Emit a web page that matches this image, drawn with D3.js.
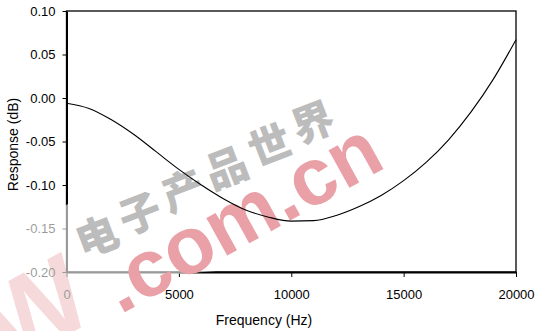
<!DOCTYPE html>
<html>
<head>
<meta charset="utf-8">
<script src="https://cdn.jsdelivr.net/npm/d3@7/dist/d3.min.js"></script>
<style>
  html, body { margin: 0; padding: 0; background: #fff; }
  svg { display: block; font-family: "Liberation Sans", Arial, sans-serif; }
</style>
</head>
<body>
<svg id="chart" width="539" height="331"></svg>
<script>
// ---- data ----
const frequencies = [0, 1000, 2000, 3000, 4000, 5000, 6000, 7000, 8000, 9000, 10000,
                     11000, 12000, 13000, 14000, 15000, 16000, 17000, 18000, 19000, 20000];
const responses   = [-0.006, -0.012, -0.025, -0.042, -0.062, -0.082, -0.100, -0.116, -0.129, -0.137, -0.1415,
                     -0.141, -0.135, -0.125, -0.112, -0.095, -0.074, -0.048, -0.016, 0.022, 0.067];
const xTicks = [0, 5000, 10000, 15000, 20000];
const yTicks = [0.10, 0.05, 0.00, -0.05, -0.10, -0.15, -0.20];
const xTitle = "Frequency (Hz)";
const yTitle = "Response (dB)";
const wmChars = ["电", "子", "产", "品", "世", "界"];
const wmText = ".com.cn";
const wmLetter = "W";

const svg = d3.select("#chart");
const L = 66.5, R = 516, T = 11, B = 272;
const x = d3.scaleLinear().domain([0, 20000]).range([L, R]);
const y = d3.scaleLinear().domain([-0.20, 0.10]).range([B, T]);
const red = "#e9a0a6";
const ang = -29;

// watermark big letter (behind axes)
svg.append("text")
  .attr("transform", `translate(98,318) rotate(${ang})`)
  .attr("text-anchor", "end")
  .attr("font-family", "'Liberation Sans', Arial, sans-serif").attr("font-weight", 700)
  .attr("font-size", 110).attr("fill", red).text(wmLetter);

// plot frame (top/right)
svg.append("rect").attr("x", L).attr("y", T).attr("width", R - L).attr("height", B - T)
  .attr("fill", "none").attr("stroke", "#000").attr("stroke-width", 1.3);

// axes
const xAxis = svg.append("g").attr("transform", `translate(0,${B})`)
  .call(d3.axisBottom(x).tickValues(xTicks).tickFormat(d3.format("d")).tickSize(5).tickPadding(13).tickSizeOuter(0));
const yAxis = svg.append("g").attr("transform", `translate(${L},0)`)
  .call(d3.axisLeft(y).tickValues(yTicks).tickFormat(d3.format(".2f")).tickSize(4).tickPadding(7).tickSizeOuter(0));
[xAxis, yAxis].forEach(g => {
  g.select(".domain").attr("stroke", "#000").attr("stroke-width", 2);
  g.selectAll(".tick line").attr("stroke", "#000").attr("stroke-width", 1);
  g.selectAll(".tick text").attr("fill", "#000").attr("font-size", 13)
    .attr("font-family", "'Liberation Sans', Arial, sans-serif");
});
yAxis.selectAll(".tick text").text(d => d3.format(".2f")(d).replace("−", "-"));

// axis titles
svg.append("text").attr("x", 264).attr("y", 325).attr("text-anchor", "middle")
  .attr("font-size", 14).attr("fill", "#000").text(xTitle);
svg.append("text").attr("transform", "translate(18,144.5) rotate(-90)").attr("text-anchor", "middle")
  .attr("font-size", 14).attr("fill", "#000").text(yTitle);

// watermark halo
svg.append("polygon")
  .attr("points", "0,240 70,203 330,62 420,110 410,190 256,268 150,276 100,331 0,331")
  .attr("fill", "#fff").attr("opacity", 0.6);

// watermark gray characters
const c0 = [97, 237], c1 = [313, 123];
svg.append("g").selectAll("text").data(wmChars).join("text")
  .attr("transform", (d, i) => {
    const t = i / (wmChars.length - 1);
    const cx = c0[0] + (c1[0] - c0[0]) * t, cy = c0[1] + (c1[1] - c0[1]) * t;
    return `translate(${cx},${cy}) rotate(${ang + 8})`;
  })
  .attr("text-anchor", "middle").attr("dy", "0.35em")
  .attr("font-family", "'Noto Sans CJK SC', sans-serif").attr("font-weight", 900)
  .attr("font-size", 42).attr("fill", "#bcbcbc").text(d => d);

// watermark red text
svg.append("text")
  .attr("transform", `translate(120,315) rotate(${ang})`)
  .attr("text-anchor", "start")
  .attr("font-family", "'Liberation Sans', Arial, sans-serif").attr("font-weight", 700)
  .attr("font-size", 81).attr("fill", red).text(wmText);

// curve
const line = d3.line().x((d, i) => x(frequencies[i])).y(d => y(d)).curve(d3.curveMonotoneX);
svg.append("path").datum(responses).attr("d", line)
  .attr("fill", "none").attr("stroke", "#000").attr("stroke-width", 1.1);
</script>
</body>
</html>
